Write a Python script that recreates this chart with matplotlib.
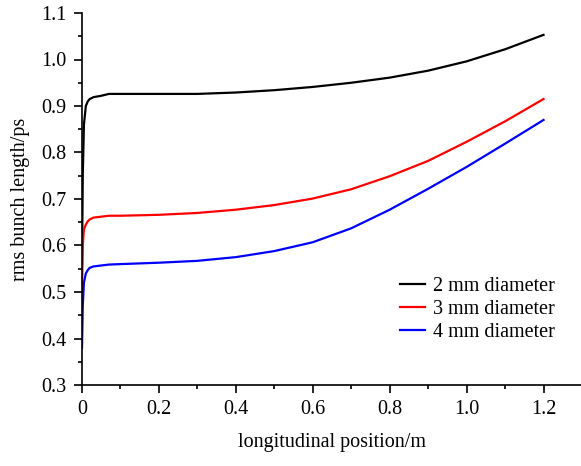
import numpy as np
import matplotlib
matplotlib.use("Agg")
import matplotlib.pyplot as plt
from matplotlib.ticker import MultipleLocator

plt.rcParams['font.family'] = ['Liberation Serif', 'DejaVu Serif']

# longitudinal position (m)
pos = [0, 0.002, 0.005, 0.01, 0.015, 0.02, 0.03, 0.05, 0.07, 0.1, 0.2, 0.3,
       0.4, 0.5, 0.6, 0.7, 0.8, 0.9, 1.0, 1.1, 1.2]

# rms bunch length (ps)
d2mm = [0.56, 0.75, 0.86, 0.90, 0.91, 0.915, 0.919, 0.922, 0.926, 0.926, 0.926, 0.926,
        0.929, 0.934, 0.941, 0.950, 0.961, 0.976, 0.996, 1.022, 1.053]
d3mm = [0.50, 0.60, 0.635, 0.645, 0.652, 0.656, 0.660, 0.662, 0.664, 0.664, 0.666, 0.670,
        0.677, 0.687, 0.701, 0.721, 0.749, 0.782, 0.823, 0.867, 0.915]
d4mm = [0.38, 0.47, 0.52, 0.54, 0.547, 0.552, 0.555, 0.557, 0.559, 0.560, 0.563, 0.567,
        0.575, 0.588, 0.607, 0.637, 0.677, 0.722, 0.769, 0.819, 0.870]

labels = ['2 mm diameter', '3 mm diameter', '4 mm diameter']

fig = plt.figure(figsize=(5.81, 4.66), dpi=100)
ax = fig.add_axes([82/581, 81/466, 500/581, 372/466])

ax.plot(pos, d2mm, color='black', lw=1.6, label=labels[0])
ax.plot(pos, d3mm, color='red', lw=1.6, label=labels[1])
ax.plot(pos, d4mm, color='blue', lw=1.6, label=labels[2])

ax.set_xlim(0, 1.3)
ax.set_ylim(0.3, 1.1)
ax.set_xticks([0, 0.2, 0.4, 0.6, 0.8, 1.0, 1.2])
ax.set_xticklabels(['0', '0.2', '0.4', '0.6', '0.8', '1.0', '1.2'])
ax.xaxis.set_minor_locator(MultipleLocator(0.1))
ax.yaxis.set_major_locator(MultipleLocator(0.1))
ax.yaxis.set_minor_locator(MultipleLocator(0.05))
ax.yaxis.set_major_formatter(matplotlib.ticker.FormatStrFormatter('%.1f'))

for s in ['top', 'right']:
    ax.spines[s].set_visible(False)
ax.spines['left'].set_linewidth(1.2)
ax.spines['bottom'].set_linewidth(1.2)
ax.tick_params(which='major', direction='out', length=6, width=1.2, labelsize=14.5, pad=5)
ax.tick_params(which='minor', direction='out', length=3, width=1.2)

ax.set_xlabel('longitudinal position/m', fontsize=14.5, labelpad=10)
ax.set_ylabel('rms bunch length/ps', fontsize=14.5, labelpad=8)

ax.legend(loc='lower left', bbox_to_anchor=(0.636, 0.115), frameon=False, fontsize=14.5,
          handlelength=1.25, handletextpad=0.4, labelspacing=0.2,
          borderpad=0, borderaxespad=0)

fig.savefig('out.png', dpi=100)
